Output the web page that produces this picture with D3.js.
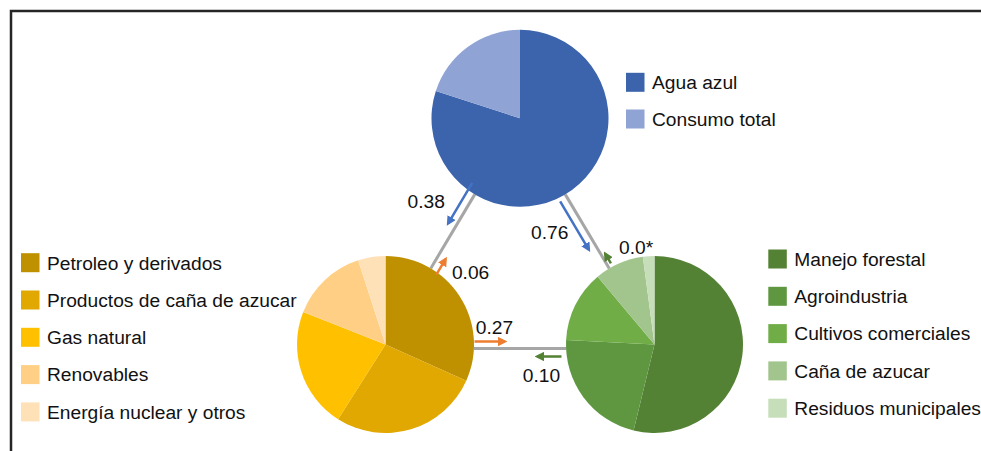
<!DOCTYPE html>
<html>
<head>
<meta charset="utf-8">
<script src="https://cdn.jsdelivr.net/npm/d3@7"></script>
<style>
  body { margin: 0; background: #fff; }
  svg { display: block; font-family: "Liberation Sans", Arial, sans-serif; }
</style>
</head>
<body>
<svg id="chart"></svg>
<script>
var W = 981, H = 451;

// --- data ---
var waterCats = ['Agua azul', 'Consumo total'];
var waterVals = [80, 20];
var waterColors = ['#3b64ad', '#8fa3d4'];

var energyCats = ['Petroleo y derivados', 'Productos de caña de azucar', 'Gas natural', 'Renovables', 'Energía nuclear y otros'];
var energyVals = [31.7, 27.3, 22, 14, 5];
var energyColors = ['#bf9000', '#e0a800', '#ffc000', '#ffcf86', '#ffe1b8'];

var landCats = ['Manejo forestal', 'Agroindustria', 'Cultivos comerciales', 'Caña de azucar', 'Residuos municipales'];
var landVals = [53.8, 22, 13.1, 9, 2.1];
var landColors = ['#548235', '#5f9740', '#70ad47', '#a2c58e', '#c6deba'];

// flows between the three pies
var flowFrom   = ['water', 'energy', 'water', 'land', 'energy', 'land'];
var flowTo     = ['energy', 'water', 'land', 'water', 'land', 'energy'];
var flowLabels = ['0.38', '0.06', '0.76', '0.0*', '0.27', '0.10'];

// --- layout ---
var R = 88.5;
var nodes = {
    water:  {x: 520,   y: 118.3},
    energy: {x: 385.5, y: 344.5},
    land:   {x: 654.5, y: 344.5}
};

var color_blue = '#4472c4',
    color_orange = '#ed7d31',
    color_green = '#548235',
    color_edge = '#a6a6a6',
    font_size = 19.2;

// per-flow drawing options: start distance from source centre, length, side offset, label offset
var flowStyle = [
    {start: 80, len: 47, off: 8,   color: color_blue,   ldx: -34, ldy: 5,  anchor: 'middle'},
    {start: 86, len: 18, off: 8,   color: color_orange, ldx: 11,  ldy: 12, anchor: 'start'},
    {start: 92, len: 56, off: 8,   color: color_blue,   ldx: -6,  ldy: 13, anchor: 'end'},
    {start: 92, len: 11, off: 4,   color: color_green,  ldx: 11,  ldy: -5, anchor: 'start'},
    {start: 89, len: 30, off: -3,  color: color_orange, ldx: 5,   ldy: -8, anchor: 'middle'},
    {start: 93, len: 24, off: -12, color: color_green,  ldx: -8,  ldy: 25, anchor: 'middle'}
];

var svg = d3.select('#chart')
            .attr('width', W)
            .attr('height', H);

// frame
svg.append('path')
   .attr('d', 'M11,' + H + ' L11,11 L' + W + ',11')
   .attr('fill', 'none')
   .attr('stroke', '#262626')
   .attr('stroke-width', 2.5);

var defs = svg.append('defs');
[color_blue, color_orange, color_green].forEach(function(c, i){
    defs.append('marker')
        .attr('id', 'arr' + i)
        .attr('viewBox', '0 -5 10 10')
        .attr('refX', 7)
        .attr('refY', 0)
        .attr('markerWidth', 3.8)
        .attr('markerHeight', 3.8)
        .attr('markerUnits', 'strokeWidth')
        .attr('orient', 'auto')
        .append('path')
        .attr('d', 'M0,-5 L10,0 L0,5 Z')
        .attr('fill', c);
});
function markerFor(c){
    return c === color_blue ? 'url(#arr0)' : c === color_orange ? 'url(#arr1)' : 'url(#arr2)';
}

// gray edges between pies
var edges = [['water', 'energy', 0], ['water', 'land', 0], ['energy', 'land', 4]];
edges.forEach(function(e){
    var a = nodes[e[0]], b = nodes[e[1]];
    var dx = b.x - a.x, dy = b.y - a.y, L = Math.hypot(dx, dy);
    var ux = dx / L, uy = dy / L;
    svg.append('line')
       .attr('x1', a.x + ux * R)
       .attr('y1', a.y + uy * R + e[2])
       .attr('x2', b.x - ux * R)
       .attr('y2', b.y - uy * R + e[2])
       .attr('stroke', color_edge)
       .attr('stroke-width', 3);
});

// pies
var pie = d3.pie().sort(null).value(function(d){ return d; });
var arc = d3.arc().innerRadius(0).outerRadius(R);

function drawPie(node, vals, colors){
    var g = svg.append('g')
               .attr('transform', 'translate(' + node.x + ',' + node.y + ')');
    g.selectAll('path')
     .data(pie(vals))
     .enter()
     .append('path')
     .attr('d', arc)
     .attr('fill', function(d, i){ return colors[i]; });
}
drawPie(nodes.water, waterVals, waterColors);
drawPie(nodes.energy, energyVals, energyColors);
drawPie(nodes.land, landVals, landColors);

// flow arrows + labels
flowLabels.forEach(function(lbl, i){
    var a = nodes[flowFrom[i]], b = nodes[flowTo[i]], st = flowStyle[i];
    var dx = b.x - a.x, dy = b.y - a.y, L = Math.hypot(dx, dy);
    var ux = dx / L, uy = dy / L;
    // normal to the travel direction
    var nx = -uy, ny = ux;
    var x1 = a.x + ux * st.start + nx * st.off,
        y1 = a.y + uy * st.start + ny * st.off,
        x2 = a.x + ux * (st.start + st.len) + nx * st.off,
        y2 = a.y + uy * (st.start + st.len) + ny * st.off;
    svg.append('line')
       .attr('x1', x1).attr('y1', y1)
       .attr('x2', x2).attr('y2', y2)
       .attr('stroke', st.color)
       .attr('stroke-width', 2.5)
       .attr('marker-end', markerFor(st.color));
    svg.append('text')
       .attr('x', (x1 + x2) / 2 + st.ldx)
       .attr('y', (y1 + y2) / 2 + st.ldy)
       .attr('text-anchor', st.anchor)
       .attr('font-size', font_size + 'px')
       .attr('fill', '#111')
       .text(lbl);
});

// legends
function drawLegend(x, y, step, cats, colors){
    var g = svg.append('g').attr('transform', 'translate(' + x + ',' + y + ')');
    var item = g.selectAll('g')
                .data(cats)
                .enter()
                .append('g')
                .attr('transform', function(d, i){ return 'translate(0,' + (i * step) + ')'; });
    item.append('rect')
        .attr('x', 0).attr('y', -9.5)
        .attr('width', 18.5).attr('height', 19)
        .attr('fill', function(d, i){ return colors[i]; });
    item.append('text')
        .attr('x', 26)
        .attr('y', 6.8)
        .attr('font-size', font_size + 'px')
        .attr('fill', '#111')
        .text(function(d){ return d; });
}
drawLegend(626, 82.3, 36.7, waterCats, waterColors);
drawLegend(21, 262.7, 37.3, energyCats, energyColors);
drawLegend(768.3, 259, 37.3, landCats, landColors);
</script>
</body>
</html>
